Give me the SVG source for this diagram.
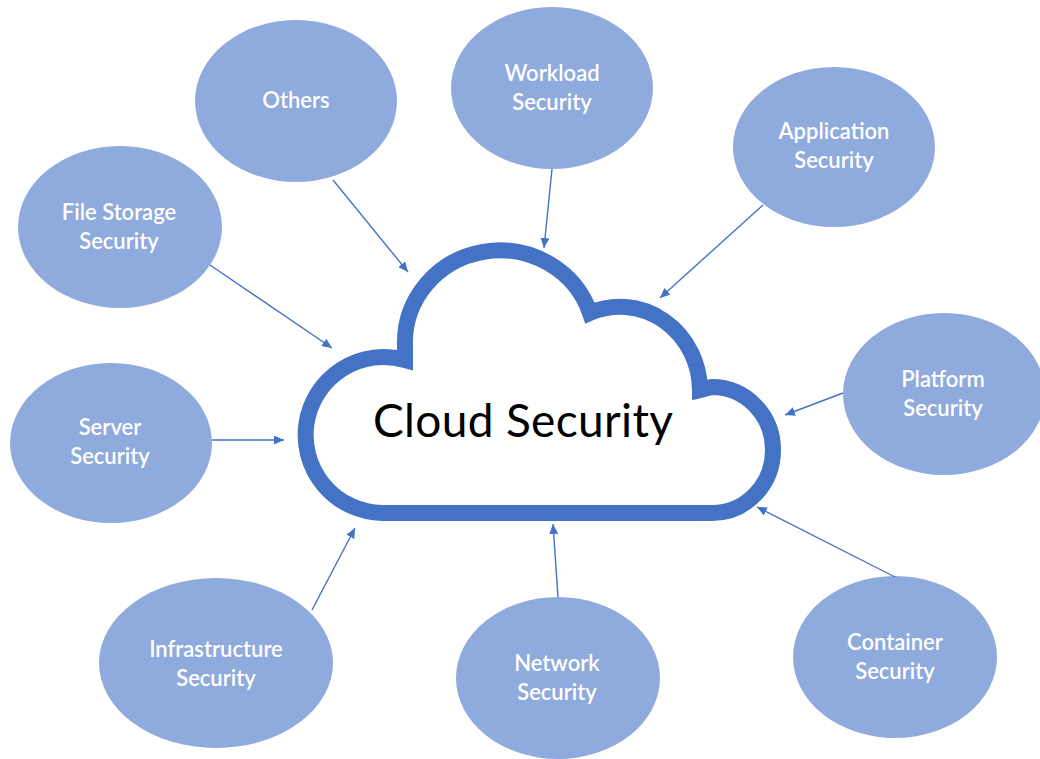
<svg xmlns="http://www.w3.org/2000/svg" width="1040" height="759" viewBox="0 0 1040 759">
<style>
.node ellipse{fill:#8FAADC;}
.lbl{font-family:Lato,"Open Sans","Liberation Sans",sans-serif;font-size:22px;font-weight:600;fill:#FFFFFF;text-anchor:middle;}
.conn line{stroke:#4472C4;stroke-width:1.4;marker-end:url(#arr);}
.cloud{fill:#FFFFFF;stroke:#4472C4;stroke-width:16;stroke-linejoin:miter;}
.title{font-family:Lato,"Open Sans","Liberation Sans",sans-serif;font-size:46px;fill:#000000;text-anchor:middle;}
</style>
<defs>
<marker id="arr" markerUnits="userSpaceOnUse" markerWidth="11" markerHeight="9" refX="10" refY="4.5" orient="auto">
<path d="M0,0 L10,4.5 L0,9 Z" fill="#4472C4"/>
</marker>
</defs>
<rect width="1040" height="759" fill="#FFFFFF"/>
<g id="cloud">
<path class="cloud" d="M382 513 A78 78 0 1 1 405 360 L405 345 A95 92 0 0 1 590 313 A80 84 0 0 1 700 390 L712 387 A61 63 0 0 1 712 513 Z"/>
<text class="title" x="523" y="437" textLength="300">Cloud Security</text>
</g>
<g id="others" class="node"><ellipse cx="296" cy="101" rx="101" ry="81"/><text class="lbl" x="296" y="108">Others</text></g>
<g id="workload" class="node"><ellipse cx="552" cy="88" rx="101" ry="81"/><text class="lbl" x="552" y="81">Workload</text><text class="lbl" x="552" y="110">Security</text></g>
<g id="application" class="node"><ellipse cx="834" cy="147" rx="101" ry="80"/><text class="lbl" x="834" y="139">Application</text><text class="lbl" x="834" y="168">Security</text></g>
<g id="filestorage" class="node"><ellipse cx="120" cy="227" rx="102" ry="81"/><text class="lbl" x="119" y="220">File Storage</text><text class="lbl" x="119" y="249">Security</text></g>
<g id="platform" class="node"><ellipse cx="944" cy="394" rx="101" ry="81"/><text class="lbl" x="943" y="387">Platform</text><text class="lbl" x="943" y="416">Security</text></g>
<g id="server" class="node"><ellipse cx="111" cy="443" rx="101" ry="80"/><text class="lbl" x="110" y="435">Server</text><text class="lbl" x="110" y="464">Security</text></g>
<g id="infrastructure" class="node"><ellipse cx="216" cy="663" rx="117" ry="85"/><text class="lbl" x="216" y="657">Infrastructure</text><text class="lbl" x="216" y="686">Security</text></g>
<g id="network" class="node"><ellipse cx="558" cy="678" rx="102" ry="81"/><text class="lbl" x="557" y="671">Network</text><text class="lbl" x="557" y="700">Security</text></g>
<g id="container" class="node"><ellipse cx="895" cy="657" rx="102" ry="81"/><text class="lbl" x="895" y="650">Container</text><text class="lbl" x="895" y="679">Security</text></g>
<g id="connectors" class="conn">
<line x1="333" y1="180" x2="408" y2="272"/>
<line x1="552" y1="169" x2="544" y2="248"/>
<line x1="763" y1="205" x2="660" y2="298"/>
<line x1="210" y1="265" x2="332" y2="348"/>
<line x1="843" y1="393" x2="785" y2="415"/>
<line x1="212" y1="440" x2="284" y2="440"/>
<line x1="312" y1="610" x2="355" y2="528"/>
<line x1="558" y1="597" x2="553" y2="524"/>
<line x1="895" y1="577" x2="757" y2="507"/>
</g>
</svg>
